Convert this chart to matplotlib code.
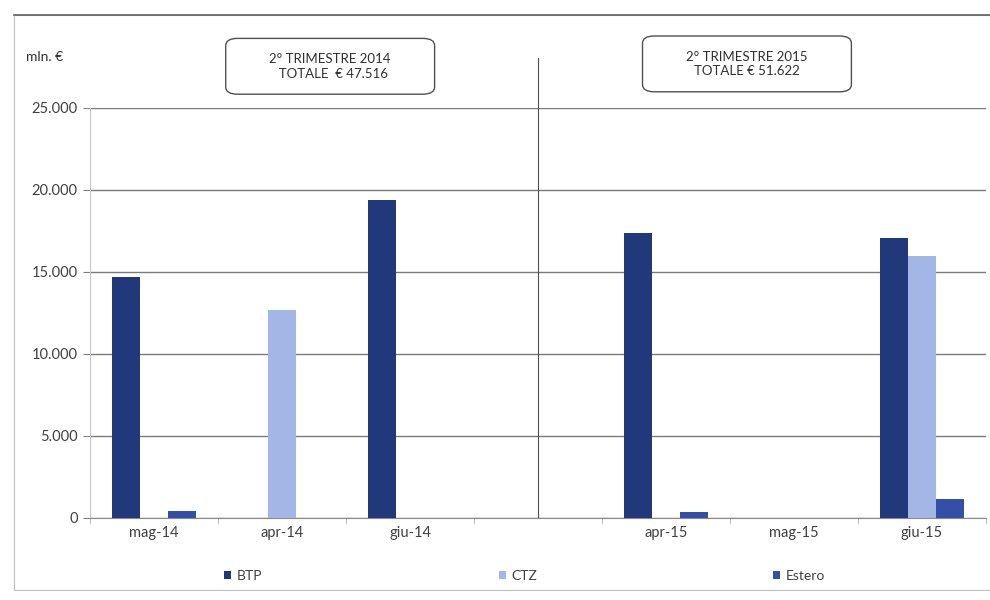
import numpy as np
import matplotlib
matplotlib.use("Agg")
import matplotlib.pyplot as plt
from matplotlib.ticker import FuncFormatter, FixedLocator
from matplotlib.patches import Rectangle, FancyBboxPatch

plt.rcParams['font.family'] = ['Lato', 'DejaVu Sans']

# dati (mln. €) - la categoria vuota separa i due trimestri
mesi = ['mag-14', 'apr-14', 'giu-14', '', 'apr-15', 'mag-15', 'giu-15']
btp = [14700, 0, 19400, 0, 17350, 0, 17050]
ctz = [0, 12700, 0, 0, 0, 0, 15950]
estero = [420, 0, 0, 0, 380, 0, 1150]

col_btp = '#21387a'
col_ctz = '#a3b7e6'
col_estero = '#3350a6'

fig = plt.figure(figsize=(9.9, 6), dpi=100)
ax = fig.add_axes([0.091, 0.137, 0.905, 0.683])

x = np.arange(len(mesi))
w = 0.215
ax.bar(x - w * 1.02, btp, w, color=col_btp, label='BTP', zorder=3)
ax.bar(x, ctz, w, color=col_ctz, label='CTZ', zorder=3)
ax.bar(x + w * 1.02, estero, w, color=col_estero, label='Estero', zorder=3)

ax.set_xlim(-0.5, len(mesi) - 0.5)
ax.set_ylim(0, 25000)
ax.set_yticks(np.arange(0, 25001, 5000))
ax.yaxis.set_major_formatter(FuncFormatter(lambda v, p: f"{int(v):,}".replace(',', '.')))
ax.set_xticks(x)
ax.set_xticklabels(mesi)
ax.xaxis.set_minor_locator(FixedLocator(np.arange(-0.5, len(mesi), 1)))
ax.tick_params(axis='x', which='major', length=0, pad=6, labelsize=10.5, labelcolor='#404040')
ax.tick_params(axis='x', which='minor', length=4, color='#b0b0b0')
ax.tick_params(axis='y', length=5, color='#808080', labelsize=10.5, labelcolor='#404040', pad=4)

ax.grid(axis='y', color='#7a7a7a', linewidth=1, zorder=0)
for s in ['top', 'right']:
    ax.spines[s].set_visible(False)
ax.spines['left'].set_color('#c8c8c8')
ax.spines['bottom'].set_color('#8a8a8a')

# linea divisoria tra i trimestri
ax.plot([3, 3], [0, 1.122], color='#505050', linewidth=0.8,
        transform=ax.get_xaxis_transform(), clip_on=False, zorder=2)

# riquadri dei totali
for (x0, y0, bw, bh), testo in [((0.228, 0.843, 0.211, 0.093), "2° TRIMESTRE 2014\n  TOTALE  € 47.516"),
                                ((0.649, 0.847, 0.211, 0.093), "2° TRIMESTRE 2015\nTOTALE € 51.622")]:
    fig.patches.append(FancyBboxPatch((x0, y0), bw, bh, boxstyle='round,pad=0,rounding_size=0.012',
                                      transform=fig.transFigure, facecolor='white',
                                      edgecolor='#505050', linewidth=1))
    fig.text(x0 + bw / 2, y0 + bh / 2, testo, ha='center', va='center',
             fontsize=9.5, color='#303030', linespacing=1.25)

fig.text(0.026, 0.905, "mln. €", fontsize=10, color='#303030', va='center')

# cornice esterna
fig.patches.append(Rectangle((0.014, 0.017), 1.0, 0.958, transform=fig.transFigure,
                             fill=False, edgecolor='#c0c0c0', linewidth=0.8))
fig.add_artist(plt.Line2D([0.014, 1.0], [0.975, 0.975], transform=fig.transFigure,
                          color='#606060', linewidth=1.2))

fig.legend(loc='center', bbox_to_anchor=(0.53, 0.04), ncol=3, frameon=False,
           fontsize=10, handlelength=0.5, handleheight=0.5, handletextpad=0.4,
           columnspacing=17, labelcolor='#404040')

fig.savefig("out.png", dpi=100)
